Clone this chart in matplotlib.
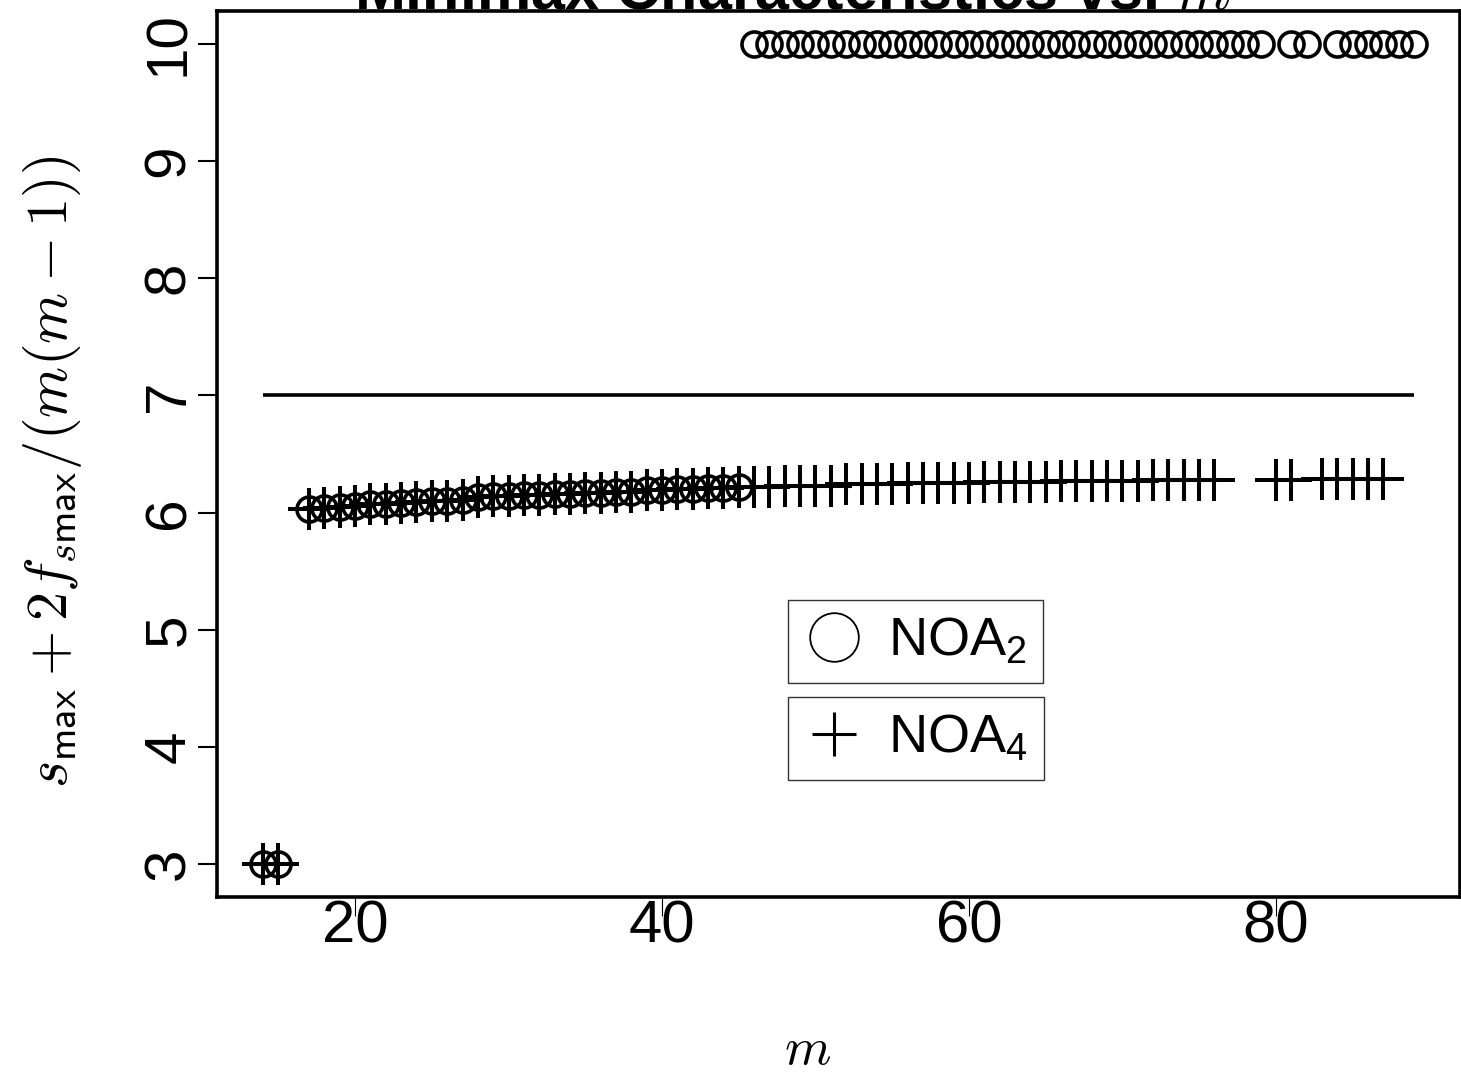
import matplotlib
matplotlib.use("Agg")
import matplotlib.pyplot as plt
from matplotlib.lines import Line2D

plt.rcParams['font.family'] = ['Liberation Sans', 'DejaVu Sans']
plt.rcParams['mathtext.fontset'] = 'cm'
plt.rcParams['mathtext.rm'] = 'Liberation Sans'
plt.rcParams['mathtext.it'] = 'Liberation Sans:italic'
plt.rcParams['mathtext.bf'] = 'Liberation Sans:bold'
plt.rcParams['mathtext.sf'] = 'Liberation Sans'

# ---------------- data ----------------
# NOA2 (circles)
noa2_m = [14, 15,
          17, 18, 19, 20, 21, 22, 23, 24, 25, 26, 27, 28, 29, 30, 31, 32, 33, 34, 35,
          36, 37, 38, 39, 40, 41, 42, 43, 44, 45,
          46, 47, 48, 49, 50, 51, 52, 53, 54, 55, 56, 57, 58, 59, 60, 61, 62, 63, 64,
          65, 66, 67, 68, 69, 70, 71, 72, 73, 74, 75, 76, 77, 78, 79,
          81, 82, 84, 85, 86, 87, 88, 89]
noa2_val = [3.00, 3.00,
            6.03, 6.04, 6.05, 6.06, 6.07, 6.07, 6.08, 6.09, 6.10, 6.10, 6.11, 6.13, 6.14,
            6.14, 6.15, 6.15, 6.16, 6.16, 6.17, 6.17, 6.18, 6.18, 6.19, 6.19, 6.20, 6.20,
            6.21, 6.21, 6.22,
            10, 10, 10, 10, 10, 10, 10, 10, 10, 10, 10, 10, 10, 10, 10, 10, 10, 10, 10,
            10, 10, 10, 10, 10, 10, 10, 10, 10, 10, 10, 10, 10, 10, 10,
            10, 10, 10, 10, 10, 10, 10, 10]

# NOA4 (plus signs)
noa4_m = [14, 15,
          17, 18, 19, 20, 21, 22, 23, 24, 25, 26, 27, 28, 29, 30, 31, 32, 33, 34, 35,
          36, 37, 38, 39, 40, 41, 42, 43, 44, 45, 46, 47, 48, 49, 50, 51, 52, 53, 54,
          55, 56, 57, 58, 59, 60, 61, 62, 63, 64, 65, 66, 67, 68, 69, 70, 71, 72, 73,
          74, 75, 76,
          80, 81, 83, 84, 85, 86, 87]
noa4_val = [3.00, 3.00,
            6.03, 6.04, 6.05, 6.06, 6.07, 6.07, 6.08, 6.09, 6.10, 6.10, 6.11, 6.13, 6.14,
            6.14, 6.15, 6.15, 6.16, 6.16, 6.17, 6.17, 6.18, 6.18, 6.19, 6.19, 6.20, 6.20,
            6.21, 6.21, 6.22, 6.22, 6.22, 6.23, 6.23, 6.23, 6.23, 6.24, 6.24, 6.24, 6.24,
            6.25, 6.25, 6.25, 6.25, 6.25, 6.26, 6.26, 6.26, 6.26, 6.26, 6.27, 6.27, 6.27,
            6.27, 6.27, 6.27, 6.28, 6.28, 6.28, 6.28, 6.28,
            6.28, 6.28, 6.29, 6.29, 6.29, 6.29, 6.29]

# reference level line
ref_level = 7
ref_m_start, ref_m_end = 14, 89

x_ticks = [20, 40, 60, 80]
y_ticks = [3, 4, 5, 6, 7, 8, 9, 10]
x_limits = (11, 92)
y_limits = (2.72, 10.28)

W, H = 1461, 1081
fig = plt.figure(figsize=(W / 100, H / 100), dpi=100)
ax = fig.add_axes([217 / W, 1 - 897 / H, (1460 - 217) / W, (897 - 11) / H])

ax.hlines(ref_level, ref_m_start, ref_m_end, color='black', lw=2.6)
ax.plot(noa2_m, noa2_val, ls='none', marker='o', ms=18, mfc='none', mec='black', mew=2.6)
ax.plot(noa4_m, noa4_val, ls='none', marker='+', ms=30, mec='black', mew=2.9)

ax.set_xlim(*x_limits)
ax.set_ylim(*y_limits)
ax.set_xticks(x_ticks)
ax.set_yticks(y_ticks)
ax.tick_params(axis='x', length=14, width=0.8, pad=-12, labelsize=43, direction='out')
ax.tick_params(axis='y', length=14, width=1.5, pad=1, labelsize=42, direction='out')
for t in ax.get_yticklabels():
    t.set_rotation(90)
    t.set_va('center')
for s in ax.spines.values():
    s.set_linewidth(2.6)

# legends (two separate boxes)
h1 = Line2D([], [], marker='o', ms=35, mfc='none', mec='black', mew=1.3, ls='none')
h2 = Line2D([], [], marker='+', ms=32, mec='black', mew=2.2, ls='none')
common = dict(loc='upper left', bbox_transform=fig.transFigure, frameon=True,
              fancybox=False, fontsize=39, borderpad=0.3, handlelength=1.1,
              handletextpad=0.45, borderaxespad=0, framealpha=1)
leg1 = ax.legend([h1], ['NOA$_2$'], bbox_to_anchor=(788 / W, 1 - 600 / H), **common)
leg1.get_frame().set_edgecolor('#333333')
leg1.get_frame().set_linewidth(1.0)
for t in leg1.get_texts():
    t.set_math_fontfamily('custom')
ax.add_artist(leg1)
leg2 = ax.legend([h2], ['NOA$_4$'], bbox_to_anchor=(788 / W, 1 - 697 / H), **common)
leg2.get_frame().set_edgecolor('#333333')
leg2.get_frame().set_linewidth(1.0)
for t in leg2.get_texts():
    t.set_math_fontfamily('custom')

fig.text(792 / W, 1 - 9 / H, 'Minimax Characteristics vs. $m$', ha='center',
         va='baseline', fontsize=44, fontweight='bold')
fig.text(52 / W, 1 - 472 / H, r'$s_{\mathsf{max}} + 2f_{s\mathsf{max}}/(m(m-1))$',
         rotation=90, ha='center', va='center', fontsize=42)
fig.text(808 / W, 1 - 1050 / H, '$m$', ha='center', va='center', fontsize=38)

fig.savefig('out.png', dpi=100)
